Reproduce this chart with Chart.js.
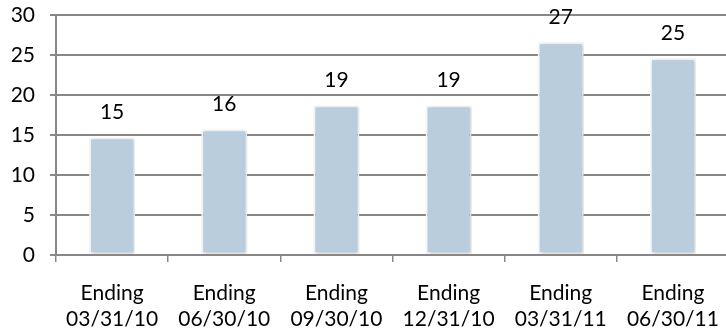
<!DOCTYPE html>
<html>
<head>
<meta charset="utf-8">
<script src="https://cdn.jsdelivr.net/npm/chart.js@4"></script>
<style>
  html, body { margin: 0; padding: 0; background: #ffffff; overflow: hidden; }
  #wrap { width: 729px; height: 333px; position: relative; }
</style>
</head>
<body>
<div id="wrap"><canvas id="quarters-chart"></canvas></div>
<script>
    // Chart data
    var categories = [
        ['Ending', '03/31/10'],
        ['Ending', '06/30/10'],
        ['Ending', '09/30/10'],
        ['Ending', '12/31/10'],
        ['Ending', '03/31/11'],
        ['Ending', '06/30/11']
    ];
    var counts = [14.7, 15.7, 18.7, 18.7, 26.6, 24.6];
    var countLabels = ['15', '16', '19', '19', '27', '25'];
    var yTicks = [0, 5, 10, 15, 20, 25, 30];

    var FONT = 'Lato, "Open Sans", sans-serif';
    var FONT_SIZE = 21;
    var GRID = '#878787';

    // soft shadow round the bars
    var barShadow = {
        id: 'barShadow',
        beforeDatasetDraw: function(chart) {
            var ctx = chart.ctx;
            ctx.save();
            ctx.shadowColor = 'rgba(0, 0, 0, 0.22)';
            ctx.shadowBlur = 3;
            ctx.shadowOffsetX = 1;
            ctx.shadowOffsetY = 1;
        },
        afterDatasetDraw: function(chart) {
            chart.ctx.restore();
        }
    };

    // value labels above each bar
    var valueLabels = {
        id: 'valueLabels',
        afterDatasetsDraw: function(chart) {
            var ctx = chart.ctx;
            var meta = chart.getDatasetMeta(0);
            ctx.save();
            ctx.font = FONT_SIZE + 'px ' + FONT;
            ctx.fillStyle = '#000000';
            ctx.textAlign = 'center';
            ctx.textBaseline = 'middle';
            meta.data.forEach(function(bar, i) {
                ctx.fillText(countLabels[i], bar.x, bar.y - 25);
            });
            ctx.restore();
        }
    };

    new Chart(document.getElementById('quarters-chart').getContext('2d'), {
        type: 'bar',
        data: {
            labels: categories,
            datasets: [{
                data: counts,
                backgroundColor: '#b9cddc',
                borderColor: '#f4f7fa',
                borderWidth: 2,
                borderSkipped: false,
                barPercentage: 0.41,
                categoryPercentage: 1
            }]
        },
        plugins: [barShadow, valueLabels],
        options: {
            responsive: true,
            maintainAspectRatio: false,
            animation: false,
            layout: {
                padding: { top: 15, right: 0, left: 0, bottom: 0 }
            },
            plugins: {
                legend: { display: false },
                tooltip: { enabled: false }
            },
            scales: {
                x: {
                    grid: {
                        offset: true,
                        drawOnChartArea: false,
                        color: GRID,
                        lineWidth: 1.5,
                        tickLength: 7
                    },
                    border: { color: GRID, width: 2 },
                    ticks: {
                        font: { size: FONT_SIZE, family: FONT, lineHeight: 1.25 },
                        color: '#000000',
                        padding: 18,
                        maxRotation: 0
                    },
                    afterFit: function(scale) {
                        scale.height = 78;
                        scale.paddingLeft = 0;
                        scale.paddingRight = 0;
                    }
                },
                y: {
                    min: 0,
                    max: 30,
                    afterBuildTicks: function(scale) {
                        scale.ticks = yTicks.map(function(v) { return { value: v }; });
                    },
                    grid: {
                        color: GRID,
                        lineWidth: 2,
                        tickLength: 6
                    },
                    border: { color: GRID, width: 2 },
                    ticks: {
                        font: { size: FONT_SIZE, family: FONT },
                        color: '#000000',
                        padding: 15
                    },
                    afterFit: function(scale) {
                        scale.width = 56;
                        scale.paddingTop = 0;
                        scale.paddingBottom = 0;
                    }
                }
            }
        }
    });
</script>
</body>
</html>
